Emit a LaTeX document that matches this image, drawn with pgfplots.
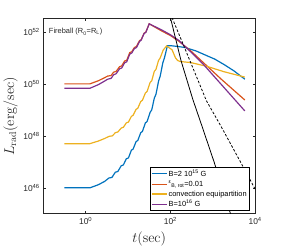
\documentclass[border=0pt]{standalone}
\usepackage[no-math]{fontspec}
\setmainfont{Liberation Sans}
\usepackage{pgfplots}
\pgfplotsset{compat=1.18}
\definecolor{mblue}{RGB}{0,114,189}
\definecolor{morange}{RGB}{217,83,25}
\definecolor{myellow}{RGB}{237,177,32}
\definecolor{mpurple}{RGB}{126,47,142}
\definecolor{axgray}{gray}{0.15}
\begin{document}
\begin{tikzpicture}
\begin{axis}[
  at={(0,0)}, anchor=south west,
  scale only axis, width=213bp, height=196bp,
  xmode=log, ymode=log,
  xmin=0.1, xmax=1e4, ymin=1e45, ymax=3.1623e52,
  xtick={1,100,10000}, xticklabels={10\textsuperscript{0},10\textsuperscript{2},10\textsuperscript{4}},
  ytick={1e46,1e48,1e50,1e52},
  yticklabels={10\textsuperscript{46},10\textsuperscript{48},10\textsuperscript{50},10\textsuperscript{52}},
  xminorticks=false, yminorticks=false,
  tick align=inside, major tick length=2.5bp,
  every tick/.style={axgray, line width=0.6bp},
  axis line style={axgray, line width=1bp},
  tick label style={font=\fontsize{8.5}{9}\selectfont, text=axgray},
  xlabel={$t(\mathrm{sec})$},
  ylabel={$L_{\mathrm{rad}}(\mathrm{erg}/\mathrm{sec})$},
  label style={font=\fontsize{14.5}{16}\selectfont, text=axgray},
  xlabel style={at={(axis description cs:0.5,0)}, anchor=center, yshift=-25bp},
  ylabel style={at={(axis description cs:-0.155,0.5)}, anchor=center},
  legend style={at={(0.972,0.015)}, anchor=south east, draw=black, line width=0.6bp,
    font=\fontsize{7.5}{8}\selectfont, fill=white, inner sep=1bp,
    nodes={inner sep=1.2bp}, row sep=0.4bp},
  legend cell align=left,
  legend image code/.code={\draw[#1, line width=1.3bp] (0bp,0bp) -- (15bp,0bp);},
  every axis plot/.append style={line width=1.2bp},
]
% B = 2e15 G
\addplot[mblue] coordinates {
(0.3162,1e46) (1.259,1e46) (1.995,1.318e46) (2.818,1.778e46) (3.548,2.399e46) (4.169,2.512e46)
(5.012,3.981e46) (5.754,4.266e46) (6.918,7.079e46) (7.762,7.586e46) (9.120,1.318e47) (10.23,1.413e47)
(12.02,2.818e47) (13.18,3.090e47) (15.49,6.026e47) (16.98,6.607e47) (19.95,1.318e48) (21.88,1.479e48)
(25.70,3.162e48) (28.18,3.548e48) (33.11,7.943e48) (36.31,1e49) (41.69,2.818e49) (45.71,3.981e49)
(52.48,1.259e50) (57.54,1.995e50) (66.07,6.310e50) (72.44,1e51) (85.11,2.951e51) (100,2.951e51)
(147.9,2.754e51) (218.8,2.512e51) (398.1,1.862e51) (645.7,1.318e51) (1122,8.913e50) (1905,5.370e50)
(3162,3.162e50) (5702,1.514e50)};
\addlegendentry{B=2 10\textsuperscript{15} G}
% eps_B,rot = 0.01
\addplot[morange] coordinates {
(0.3162,1e50) (1.259,1e50) (1.995,1.318e50) (2.818,1.738e50) (3.311,1.995e50) (3.981,2.089e50)
(4.571,2.818e50) (5.248,3.020e50) (6.310,4.571e50) (7.079,4.898e50) (8.318,7.586e50) (9.333,8.128e50)
(10.96,1.585e51) (12.30,1.738e51) (14.13,2.512e51) (15.85,2.754e51) (18.62,4.571e51) (20.42,5.012e51)
(23.99,8.913e51) (26.30,9.772e51) (31.62,2.042e52) (63.10,1.072e52) (100,7.244e51) (158.5,4.365e51)
(316.2,1.738e51) (616.6,6.310e50) (1585,1.514e50) (5702,2.399e49)};
\addlegendentry{\textsuperscript{ε}\textsubscript{B, rot}=0.01}
% convection equipartition
\addplot[myellow] coordinates {
(0.3162,5.012e47) (1.259,5.012e47) (1.995,6.310e47) (2.818,7.943e47) (3.548,9.550e47) (4.266,1e48)
(5.012,1.318e48) (5.754,1.413e48) (6.918,1.995e48) (7.762,2.138e48) (9.120,3.162e48) (10.23,3.388e48)
(12.02,5.623e48) (13.18,6.166e48) (15.49,1.047e49) (16.98,1.148e49) (19.95,2.089e49) (21.88,2.344e49)
(25.70,4.467e49) (28.18,5.129e49) (33.11,1.122e50) (36.31,1.318e50) (41.69,3.020e50) (45.71,3.631e50)
(52.48,7.943e50) (57.54,1e51) (67.61,1.995e51) (81.28,2.884e51) (109.6,2.042e51) (131.8,1e51)
(147.9,7.943e50) (169.8,7.244e50) (302.0,6.607e50) (741.3,4.677e50) (1820,2.951e50) (5702,1.820e50)};
\addlegendentry{convection equipartition}
% B = 1e16 G
\addplot[mpurple] coordinates {
(0.3162,6.761e49) (1.259,6.761e49) (1.995,9.333e49) (2.818,1.288e50) (3.311,1.514e50) (3.981,1.622e50)
(4.571,2.239e50) (5.248,2.455e50) (6.310,3.802e50) (7.079,4.074e50) (8.318,6.457e50) (9.333,7.079e50)
(10.96,1.380e51) (12.30,1.549e51) (14.13,2.291e51) (15.85,2.512e51) (18.62,4.266e51) (20.42,4.786e51)
(23.99,8.710e51) (26.30,9.550e51) (31.62,2.042e52) (63.10,1.175e52) (100,7.762e51) (158.5,4.677e51)
(316.2,1.585e51) (616.6,5.370e50) (1585,9.550e49) (5702,9.120e48)};
\addlegendentry{B=10\textsuperscript{16} G}
% black reference lines
\addplot[black, line width=0.8bp, forget plot] coordinates {
(93.33,5.623e52) (177.8,7.943e50) (338.8,2.512e49) (549.5,2.512e48) (1072,1e47) (2630,1e45) (3162,3.981e44)};
\addplot[black, line width=0.8bp, dash pattern=on 2.5bp off 1.8bp, forget plot] coordinates {
(100,5.012e52) (218.8,2.344e51) (707.9,2.239e49) (1549,2.399e48) (4677,8.913e46) (11220,6.310e45)};
\node[anchor=west, inner sep=0pt, font=\fontsize{7.5}{8}\selectfont, text=axgray] at (axis cs:0.135,1e52) {Fireball (R\textsubscript{0}=R\textsubscript{L})};
\end{axis}
\path[use as bounding box] (-42bp,-37bp) rectangle (240bp,215bp);
\end{tikzpicture}
\end{document}
